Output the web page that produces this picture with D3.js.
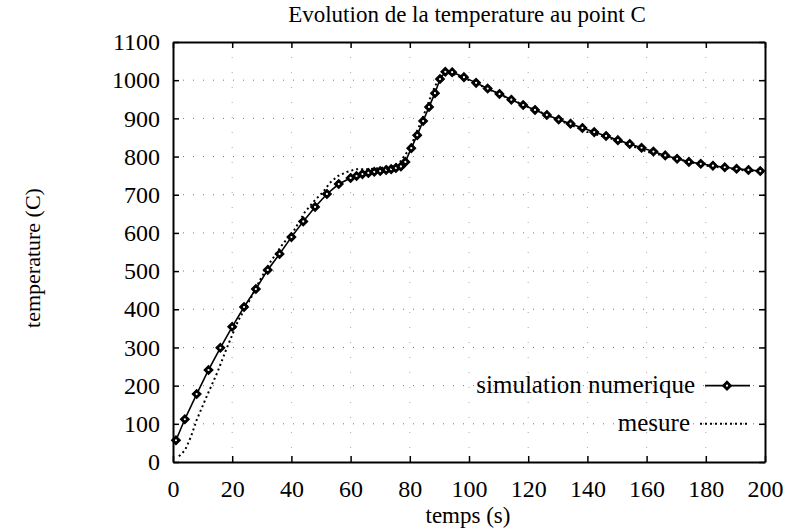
<!DOCTYPE html>
<html>
<head>
<meta charset="utf-8">
<script src="https://cdn.jsdelivr.net/npm/d3@7"></script>
<style>
  body { margin: 0; background: #fff; }
  text { font-family: "Liberation Serif", "Times New Roman", serif; fill: #000; }
</style>
</head>
<body>
<div id="chart"></div>
<script>
    var width = 785;
    var height = 530;

    // simulation numerique
    var simTime = [1, 4, 8, 12, 16, 20, 24, 28, 32, 36, 40, 44, 48, 52, 56, 60, 62, 64, 66, 68,
                   70, 72, 73.7, 75.3, 77, 78.5, 80.5, 82.5, 84.5, 86.5, 88.5, 90.2, 92, 94.3,
                   98.3, 102.4, 106.3, 110.3, 114.3, 118.3, 122.3, 126.3, 130.3, 134.3, 138.3,
                   142.3, 146.3, 150.3, 154.3, 158.3, 162.3, 166.3, 170.3, 174.3, 178.3, 182.4,
                   186.4, 190.4, 194.4, 198.4];
    var simTemp = [57, 112, 178, 241, 299, 354, 406, 453, 503, 545, 589, 630, 668, 702, 728, 744, 749, 754, 757, 760,
                   762, 765, 767, 770, 774, 786, 822, 856, 893, 930, 966, 1003, 1022, 1021,
                   1008, 993, 978, 964, 949, 935, 922, 909, 897, 886, 875,
                   864, 854, 843, 833, 823, 813, 803, 794, 786, 781, 776,
                   772, 768, 765, 762];

    // mesure
    var mesTime = [2, 4, 6, 8, 11, 15, 18, 22, 26, 29.5, 33, 37, 41, 44.6, 48, 50.7, 53, 55.7, 58.8, 62,
                   66, 70, 74.3, 76.7, 78.4, 80.1, 82, 84, 86, 88, 90, 92, 95, 100, 110, 120, 130,
                   140, 150, 160, 170, 180, 190, 200];
    var mesTemp = [15, 30, 65, 110, 165, 235, 295, 370, 425, 478, 525, 570, 608, 655, 686, 707, 731, 749, 760, 767,
                   767, 770, 775, 786, 804, 822, 858, 895, 935, 975, 1008, 1020, 1015, 1000, 964, 930, 897,
                   864, 843, 813, 794, 776, 766, 760];

    var xTicks = [0, 20, 40, 60, 80, 100, 120, 140, 160, 180, 200];
    var yTicks = [0, 100, 200, 300, 400, 500, 600, 700, 800, 900, 1000, 1100];

    // frame of the plot, in pixels
    var plotLeft = 173, plotRight = 765, plotTop = 42, plotBottom = 462;

    var x = d3.scaleLinear().domain([0, 200]).range([plotLeft, plotRight]);
    var y = d3.scaleLinear().domain([0, 1100]).range([plotBottom, plotTop]);

    var svg = d3.select("#chart")
                .append("svg")
                .attr("width", width)
                .attr("height", height);

    // grid
    svg.append("g").selectAll("line")
       .data(yTicks.slice(1, -1))
       .enter().append("line")
       .attr("x1", plotLeft).attr("x2", plotRight)
       .attr("y1", function(d) { return y(d); })
       .attr("y2", function(d) { return y(d); })
       .attr("stroke", "#777").attr("stroke-width", 1)
       .attr("stroke-dasharray", "1,9");
    svg.append("g").selectAll("line")
       .data(xTicks.slice(1, -1))
       .enter().append("line")
       .attr("y1", plotTop).attr("y2", plotBottom)
       .attr("x1", function(d) { return x(d); })
       .attr("x2", function(d) { return x(d); })
       .attr("stroke", "#aaa").attr("stroke-width", 1)
       .attr("stroke-dasharray", "1,14");

    // axes with inward ticks on all four sides
    var tick = 6;
    var fmt = d3.format("d");
    svg.append("g").attr("transform", "translate(0," + plotBottom + ")")
       .call(d3.axisBottom(x).tickValues(xTicks).tickFormat(fmt).tickSizeInner(-tick).tickSizeOuter(0).tickPadding(18));
    svg.append("g").attr("transform", "translate(0," + plotTop + ")")
       .call(d3.axisTop(x).tickValues(xTicks).tickSizeInner(-tick).tickSizeOuter(0).tickFormat(""));
    svg.append("g").attr("transform", "translate(" + plotLeft + ",0)")
       .call(d3.axisLeft(y).tickValues(yTicks).tickFormat(fmt).tickSizeInner(-tick).tickSizeOuter(0).tickPadding(13));
    svg.append("g").attr("transform", "translate(" + plotRight + ",0)")
       .call(d3.axisRight(y).tickValues(yTicks).tickSizeInner(-tick).tickSizeOuter(0).tickFormat(""));

    svg.selectAll("g").attr("font-family", null).attr("font-size", null);
    svg.selectAll(".domain").attr("stroke", "#000").attr("stroke-width", 2);
    svg.selectAll(".tick line").attr("stroke", "#000").attr("stroke-width", 1.5);
    svg.selectAll(".tick text").style("font-family", "'Liberation Serif', serif").style("font-size", "24px");

    // mesure, dotted
    var mesData = mesTime.map(function(t, i) { return [t, mesTemp[i]]; });
    var simData = simTime.map(function(t, i) { return [t, simTemp[i]]; });
    var line = d3.line().x(function(d) { return x(d[0]); }).y(function(d) { return y(d[1]); });

    svg.append("path").datum(mesData)
       .attr("d", line).attr("fill", "none")
       .attr("stroke", "#000").attr("stroke-width", 2)
       .attr("stroke-dasharray", "2,3");

    svg.append("path").datum(simData)
       .attr("d", line).attr("fill", "none")
       .attr("stroke", "#000").attr("stroke-width", 1.6);

    var diamond = d3.symbol().type(d3.symbolDiamond2).size(50);
    var drawMarker = function(g, px, py) {
        g.append("path").attr("d", diamond)
         .attr("transform", "translate(" + px + "," + py + ")")
         .attr("fill", "#000").attr("stroke", "#000").attr("stroke-width", 1.2);
        g.append("circle").attr("cx", px).attr("cy", py).attr("r", 1.1).attr("fill", "#fff");
    };
    var markers = svg.append("g");
    for (var i = 0; i < simData.length; i++) {
        drawMarker(markers, x(simData[i][0]), y(simData[i][1]));
    }

    // legend
    var legY1 = y(200), legY2 = y(100);
    svg.append("text").attr("x", 695).attr("y", legY1 + 7)
       .attr("text-anchor", "end").style("font-size", "25px")
       .text("simulation numerique");
    svg.append("line").attr("x1", 705).attr("x2", 750)
       .attr("y1", legY1).attr("y2", legY1)
       .attr("stroke", "#000").attr("stroke-width", 1.6);
    drawMarker(svg, 727, legY1);

    svg.append("text").attr("x", 690).attr("y", legY2 + 7)
       .attr("text-anchor", "end").style("font-size", "25px")
       .text("mesure");
    svg.append("line").attr("x1", 700).attr("x2", 750)
       .attr("y1", legY2).attr("y2", legY2)
       .attr("stroke", "#000").attr("stroke-width", 2)
       .attr("stroke-dasharray", "2,3");

    // titles
    svg.append("text").attr("x", 467).attr("y", 22)
       .attr("text-anchor", "middle").style("font-size", "23px")
       .text("Evolution de la temperature au point C");
    svg.append("text").attr("x", 468).attr("y", 523)
       .attr("text-anchor", "middle").style("font-size", "23px")
       .text("temps (s)");
    svg.append("text")
       .attr("transform", "translate(40,258) rotate(-90)")
       .attr("text-anchor", "middle").style("font-size", "22px")
       .text("temperature (C)");
</script>
</body>
</html>
